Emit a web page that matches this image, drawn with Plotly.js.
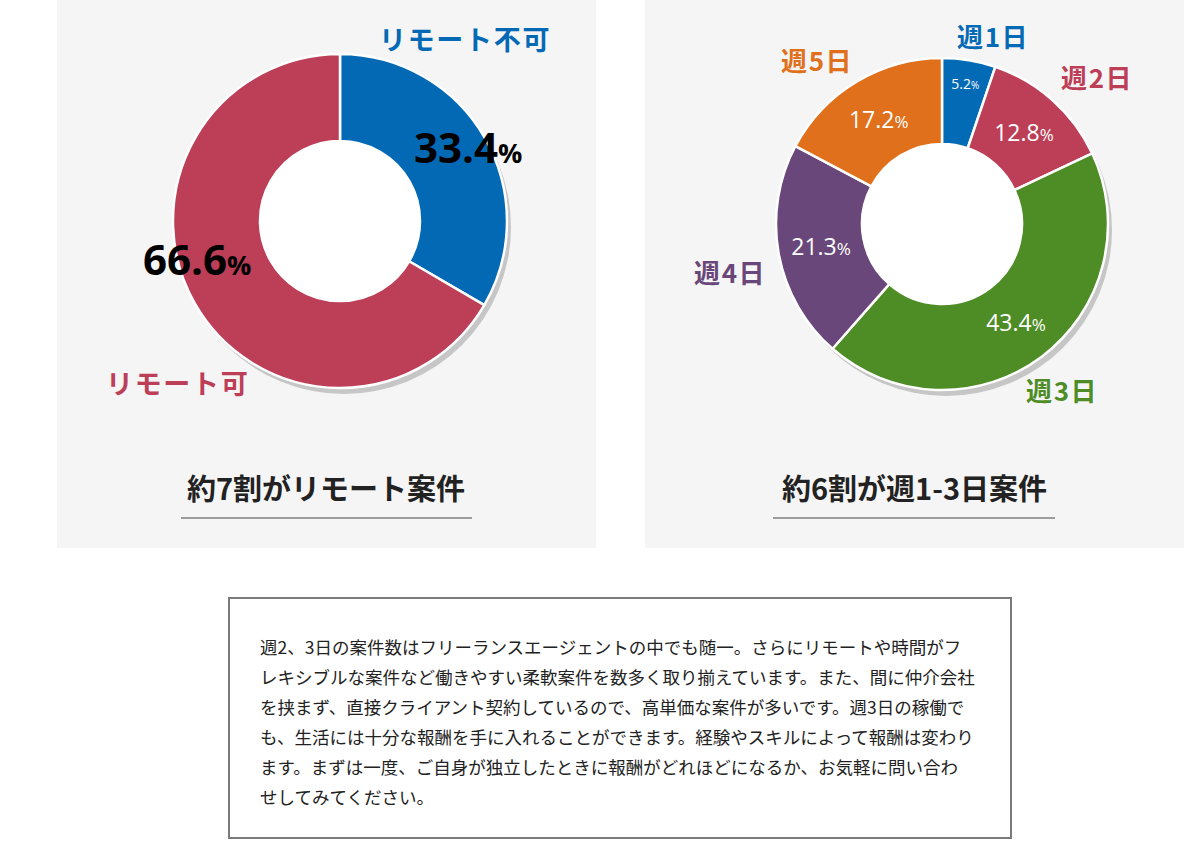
<!DOCTYPE html>
<html>
<head>
<meta charset="utf-8">
<script src="https://cdn.plot.ly/plotly-3.0.1.min.js"></script>
<style>
  html, body { margin: 0; padding: 0; background: #ffffff; }
  #chart { width: 1200px; height: 864px; }
</style>
</head>
<body>
<div id="chart"></div>
<script>
// ---- DATA
const leftLabels = ['リモート不可', 'リモート可'];
const leftValues = [33.4, 66.6];
const leftColors = ['#0369b5', '#bc3e57'];

const rightLabels = ['週1日', '週2日', '週3日', '週4日', '週5日'];
const rightValues = [5.2, 12.8, 43.4, 21.3, 17.2];
const rightColors = ['#036ab6', '#bc3e57', '#4e8c26', '#69477a', '#e0701b'];

const chartTitles = ['約7割がリモート案件', '約6割が週1-3日案件'];

const bodyLines = [
  '週2、3日の案件数はフリーランスエージェントの中でも随一。さらにリモートや時間がフ',
  'レキシブルな案件など働きやすい柔軟案件を数多く取り揃えています。また、間に仲介会社',
  'を挟まず、直接クライアント契約しているので、高単価な案件が多いです。週3日の稼働で',
  'も、生活には十分な報酬を手に入れることができます。経験やスキルによって報酬は変わり',
  'ます。まずは一度、ご自身が独立したときに報酬がどれほどになるか、お気軽に問い合わ',
  'せしてみてください。'
];

// ---- LAYOUT HELPERS (pixel -> paper)
const W = 1200, H = 864;
const fx = x => x / W;
const fy = y => 1 - y / H;

function dom(cx, cy, r) {
  return { x: [fx(cx - r), fx(cx + r)], y: [fy(cy + r), fy(cy - r)] };
}

// letter-spaced label text
const spaced = t => t.split('').join('\u200a');

const JP = '"Noto Sans CJK JP", "Noto Sans", sans-serif';
const NUM = '"Open Sans", "Noto Sans", sans-serif';

const L = { cx: 340, cy: 221, r: 167, hole: 80 };
const R = { cx: 942, cy: 224, r: 166, hole: 80 };

function ringTraces(c, labels, values, colors, extra) {
  const shadow = {
    type: 'pie', values: [1], labels: ['s'], sort: false,
    marker: { colors: ['#c6c6c6'] }, textinfo: 'none', hoverinfo: 'skip',
    showlegend: false, domain: dom(c.cx + 4, c.cy + 6, c.r)
  };
  const disk = {
    type: 'pie', values: [1], labels: ['d'], sort: false,
    marker: { colors: ['#ffffff'] }, textinfo: 'none', hoverinfo: 'skip',
    showlegend: false, domain: dom(c.cx, c.cy, c.hole)
  };
  const ring = Object.assign({
    type: 'pie', labels: labels, values: values, sort: false,
    direction: 'clockwise', rotation: 0, hole: c.hole / c.r,
    marker: { colors: colors, line: { color: '#ffffff', width: 2.5 } },
    showlegend: false, domain: dom(c.cx, c.cy, c.r)
  }, extra);
  return [shadow, disk, ring];
}

const data = []
  .concat(ringTraces(L, leftLabels, leftValues, leftColors, { textinfo: 'none' }))
  .concat(ringTraces(R, rightLabels, rightValues, rightColors, {
    textposition: 'inside',
    insidetextorientation: 'horizontal',
    texttemplate: rightValues.map((v, i) =>
      v + '<span style="font-size:' + (i === 0 ? 10 : 17) + 'px">%</span>'),
    textfont: { family: NUM, color: '#ffffff', size: rightValues.map((v, i) => i === 0 ? 14 : 23) }
  }));

// ---- ANNOTATIONS
const annotations = [];
function ann(x, y, text, size, color, weight, family) {
  annotations.push({
    xref: 'paper', yref: 'paper', x: fx(x), y: fy(y), text: text,
    showarrow: false, xanchor: 'center', yanchor: 'middle',
    font: { family: family || JP, size: size, color: color, weight: weight || 700 }
  });
}

// category labels
const leftLabelPos = [[464, 39], [177, 383]];
leftLabels.forEach((t, i) => ann(leftLabelPos[i][0], leftLabelPos[i][1], spaced(t), 27, leftColors[i]));
const rightLabelPos = [[992, 35], [1096, 77], [1061, 390], [730, 271], [816, 60]];
rightLabels.forEach((t, i) => ann(rightLabelPos[i][0], rightLabelPos[i][1], spaced(t), 26, rightColors[i]));

// big percentages on the left ring
const leftPctPos = [[468, 147], [197, 258]];
leftValues.forEach((v, i) => ann(leftPctPos[i][0], leftPctPos[i][1],
  v + '<span style="font-size:27px">%</span>', 42, '#000000', 700, NUM));

// titles
ann(326, 487, chartTitles[0], 29, '#222222');
ann(914, 487, chartTitles[1], 29, '#222222');

// body text
bodyLines.forEach((t, i) => {
  annotations.push({
    xref: 'paper', yref: 'paper', x: fx(258), y: fy(646 + i * 30), text: t,
    showarrow: false, xanchor: 'left', yanchor: 'middle',
    font: { family: JP, size: 17.5, color: '#222222' }
  });
});

// ---- SHAPES
const shapes = [
  { type: 'rect', xref: 'paper', yref: 'paper', layer: 'below',
    x0: fx(57), x1: fx(596), y0: fy(548), y1: fy(0),
    fillcolor: '#f5f5f5', line: { width: 0 } },
  { type: 'rect', xref: 'paper', yref: 'paper', layer: 'below',
    x0: fx(645), x1: fx(1184), y0: fy(548), y1: fy(0),
    fillcolor: '#f5f5f5', line: { width: 0 } },
  { type: 'line', xref: 'paper', yref: 'paper',
    x0: fx(181), x1: fx(472), y0: fy(518), y1: fy(518),
    line: { color: '#444444', width: 1 } },
  { type: 'line', xref: 'paper', yref: 'paper',
    x0: fx(773), x1: fx(1055), y0: fy(518), y1: fy(518),
    line: { color: '#444444', width: 1 } },
  { type: 'rect', xref: 'paper', yref: 'paper', layer: 'below',
    x0: fx(229), x1: fx(1011), y0: fy(838), y1: fy(598),
    fillcolor: '#ffffff', line: { color: '#7a7a7a', width: 2 } }
];

const layout = {
  width: W, height: H,
  margin: { l: 0, r: 0, t: 0, b: 0 },
  paper_bgcolor: '#ffffff', plot_bgcolor: '#ffffff',
  showlegend: false,
  annotations: annotations,
  shapes: shapes
};

Plotly.newPlot('chart', data, layout, { displayModeBar: false, staticPlot: true });
</script>
</body>
</html>
